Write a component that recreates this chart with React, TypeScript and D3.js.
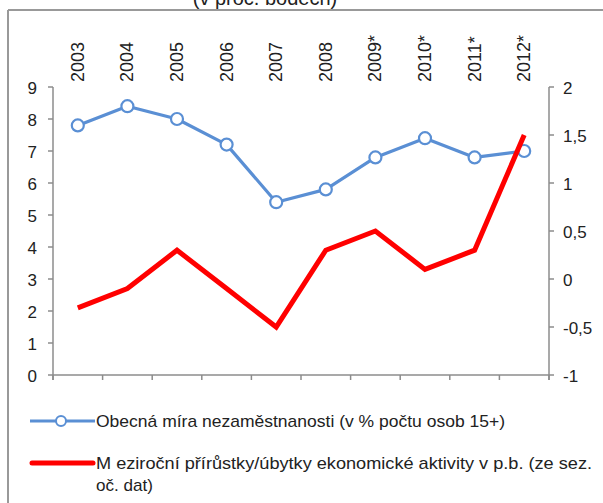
import React from "react";
import * as d3 from "d3";

const years = ["2003", "2004", "2005", "2006", "2007", "2008", "2009*", "2010*", "2011*", "2012*"];
const unemployment = [7.8, 8.4, 8.0, 7.2, 5.4, 5.8, 6.8, 7.4, 6.8, 7.0];
const activityChange = [-0.3, -0.1, 0.3, -0.1, -0.5, 0.3, 0.5, 0.1, 0.3, 1.5];
const leftTicks = [0, 1, 2, 3, 4, 5, 6, 7, 8, 9];
const rightTicks = [-1, -0.5, 0, 0.5, 1, 1.5, 2];
const legendBlue = "Obecná míra nezaměstnanosti  (v % počtu osob 15+)";
const legendRed1 = "M eziroční přírůstky/úbytky ekonomické aktivity v p.b. (ze sez.";
const legendRed2 = "oč. dat)";
const titleTail = "(v proc. bodech)";

const W = 603;
const H = 503;
const left = 53;
const right = 549;
const top = 87;
const bottom = 375;
const axisColor = "#8c8c8c";
const textColor = "#222";
const blue = "#5a8fd4";
const red = "#ff0000";
const font = "'Liberation Sans', Arial, sans-serif";

const fmt = (v: number) => String(v).replace(".", ",");

export default function App() {
  const x = d3.scaleBand<string>().domain(years).range([left, right]);
  const yL = d3.scaleLinear().domain([0, 9]).range([bottom, top]);
  const yR = d3.scaleLinear().domain([-1, 2]).range([bottom, top]);
  const cx = (i: number) => (x(years[i]) as number) + x.bandwidth() / 2;

  const blueLine = d3.line<number>().x((_, i) => cx(i)).y((d) => yL(d))(unemployment) as string;
  const redLine = d3.line<number>().x((_, i) => cx(i)).y((d) => yR(d))(activityChange) as string;

  const boundaries = years.map((y) => x(y) as number).concat([right]);

  return (
    <svg
      width={W}
      height={H}
      style={{ position: "absolute", left: 0, top: 0, background: "#fff" }}
      fontFamily={font}
    >
      <rect x={0} y={0} width={W} height={H} fill="#fff" />
      <text x={265} y={5} textAnchor="middle" fontSize={20} fill={textColor}>
        {titleTail}
      </text>
      {/* frame */}
      <line x1={8} y1={10} x2={W} y2={10} stroke="#999" strokeWidth={2} />
      <line x1={8} y1={10} x2={8} y2={H} stroke="#999" strokeWidth={2} />

      {/* year labels */}
      {years.map((yr, i) => (
        <text
          key={yr}
          transform={`translate(${cx(i) + 6},82) rotate(-90)`}
          fontSize={18}
          fill={textColor}
        >
          {yr}
        </text>
      ))}

      {/* left axis */}
      <line x1={left} y1={top} x2={left} y2={bottom + 5} stroke={axisColor} strokeWidth={1.5} />
      {leftTicks.map((t) => (
        <g key={"l" + t}>
          <line x1={left - 5} x2={left} y1={yL(t)} y2={yL(t)} stroke={axisColor} strokeWidth={1.5} />
          <text x={37} y={yL(t) + 6.5} textAnchor="end" fontSize={17} fill={textColor}>
            {fmt(t)}
          </text>
        </g>
      ))}

      {/* right axis */}
      <line x1={right} y1={top} x2={right} y2={bottom + 5} stroke={axisColor} strokeWidth={1.5} />
      {rightTicks.map((t) => (
        <g key={"r" + t}>
          <line x1={right} x2={right + 5} y1={yR(t)} y2={yR(t)} stroke={axisColor} strokeWidth={1.5} />
          <text x={563} y={yR(t) + 6.5} textAnchor="start" fontSize={17} fill={textColor}>
            {fmt(t)}
          </text>
        </g>
      ))}

      {/* x axis */}
      <line x1={left} y1={bottom} x2={right} y2={bottom} stroke={axisColor} strokeWidth={1.5} />
      {boundaries.map((b, i) => (
        <line key={"b" + i} x1={b} x2={b} y1={bottom} y2={bottom + 5} stroke={axisColor} strokeWidth={1.5} />
      ))}

      {/* series */}
      <path d={blueLine} fill="none" stroke={blue} strokeWidth={3.2} strokeLinejoin="round" />
      {unemployment.map((v, i) => (
        <circle key={"m" + i} cx={cx(i)} cy={yL(v)} r={6} fill="#fff" stroke={blue} strokeWidth={2.2} />
      ))}
      <path d={redLine} fill="none" stroke={red} strokeWidth={5} strokeLinejoin="miter" />

      {/* legend */}
      <line x1={30} x2={95} y1={421} y2={421} stroke={blue} strokeWidth={3.2} />
      <circle cx={61} cy={421} r={5} fill="#fff" stroke={blue} strokeWidth={2} />
      <text x={96} y={427} fontSize={17} fill={textColor} textLength={409} lengthAdjust="spacingAndGlyphs">
        {legendBlue}
      </text>
      <line x1={32} x2={93} y1={463} y2={463} stroke={red} strokeWidth={5} strokeLinecap="round" />
      <text x={96} y={469} fontSize={17} fill={textColor} textLength={496} lengthAdjust="spacingAndGlyphs">
        {legendRed1}
      </text>
      <text x={96} y={491} fontSize={17} fill={textColor} textLength={57} lengthAdjust="spacingAndGlyphs">
        {legendRed2}
      </text>
    </svg>
  );
}
